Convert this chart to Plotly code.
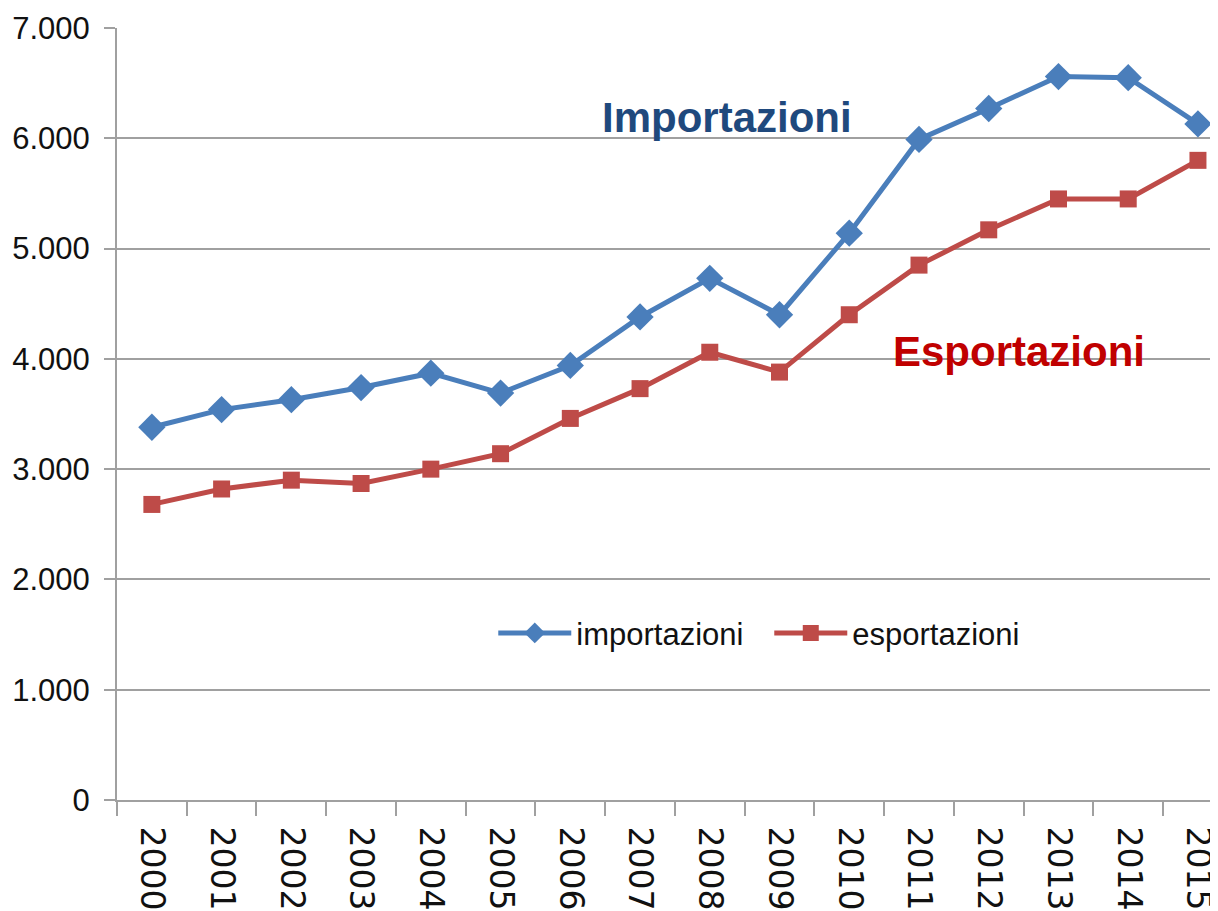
import plotly.graph_objects as go

years = [str(y) for y in range(2000, 2016)]
importazioni = [3380, 3540, 3630, 3740, 3870, 3690, 3940, 4380, 4730, 4400, 5140, 5990, 6270, 6560, 6550, 6130]
esportazioni = [2680, 2820, 2900, 2870, 3000, 3140, 3460, 3730, 4060, 3880, 4400, 4850, 5170, 5450, 5450, 5800]
y_ticks = [0, 1000, 2000, 3000, 4000, 5000, 6000, 7000]

fig = go.Figure()
fig.add_trace(go.Scatter(
    x=years, y=importazioni, name="importazioni", mode="lines+markers",
    line=dict(color="#4A7EBB", width=5),
    marker=dict(symbol="diamond", size=21, color="#4A7EBB"),
))
fig.add_trace(go.Scatter(
    x=years, y=esportazioni, name="esportazioni", mode="lines+markers",
    line=dict(color="#BE4B48", width=5),
    marker=dict(symbol="square", size=17, color="#BE4B48"),
))

fig.add_annotation(text="<b>Importazioni</b>", xref="paper", yref="paper",
                   x=0.556, y=0.8836, xanchor="center", yanchor="middle", showarrow=False,
                   font=dict(family="Liberation Sans", size=42, color="#1F497D"))
fig.add_annotation(text="<b>Esportazioni</b>", xref="paper", yref="paper",
                   x=0.822, y=0.581, xanchor="center", yanchor="middle", showarrow=False,
                   font=dict(family="Liberation Sans", size=42, color="#C00000"))

fig.update_layout(
    width=1210, height=903,
    margin=dict(l=109, r=0, t=20, b=110),
    paper_bgcolor="white", plot_bgcolor="white",
    separators=",.",
    showlegend=True,
    legend=dict(orientation="h", x=0.343, y=0.216, xanchor="left", yanchor="middle",
                font=dict(family="Liberation Sans", size=31, color="#111"),
                bgcolor="rgba(0,0,0,0)", itemwidth=73, entrywidth=188),
    xaxis=dict(
        type="category", range=[-0.5, 15.23],
        tickson="boundaries", ticks="outside", ticklen=14, tickwidth=2, tickcolor="#A0A0A0",
        tickangle=90, showgrid=False, showline=True, linecolor="#A0A0A0", linewidth=2,
        ticklabelstandoff=18,
        tickfont=dict(family="DejaVu Sans", size=33, color="#111"),
    ),
    yaxis=dict(
        range=[0, 7000], tickvals=y_ticks, tickformat=",",
        ticks="outside", ticklen=11, tickwidth=2, tickcolor="#A0A0A0",
        showgrid=True, gridcolor="#A0A0A0", gridwidth=2,
        showline=True, linecolor="#A0A0A0", linewidth=2, zeroline=False,
        ticklabelstandoff=8,
        tickfont=dict(family="Liberation Sans", size=31, color="#111"),
    ),
)

fig.write_html("out.html")
